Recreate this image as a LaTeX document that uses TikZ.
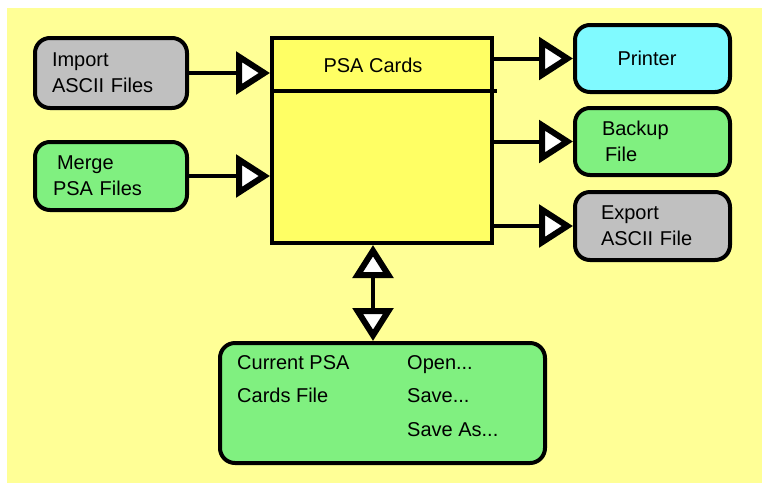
\documentclass[tikz,border=0pt]{standalone}
\usepackage{fontspec}
\setmainfont{Liberation Sans}
\usepackage{tikz}
\usetikzlibrary{arrows.meta,calc}
\definecolor{bgyellow}{RGB}{255,255,150}
\definecolor{cardyellow}{RGB}{255,255,100}
\definecolor{filegreen}{RGB}{128,240,128}
\definecolor{filegray}{RGB}{192,192,192}
\definecolor{printcyan}{RGB}{128,250,255}

\tikzset{
	box/.style={draw=black, line width=4pt, fill=#1, rounded corners=15pt,
		minimum width=155pt, minimum height=67pt, inner ysep=0pt},
	feed/.style={line width=4pt, -{Triangle[length=34pt 0, width=42pt 0, line width=6pt 0, fill=white]}},
	link/.style={line width=4pt, {Triangle[length=33pt 0, width=40pt 0, line width=6pt 0, fill=white]}-{Triangle[length=33pt 0, width=40pt 0, line width=6pt 0, fill=white]}}
}

\begin{document}
\begin{tikzpicture}[x=1pt, y=-1pt, every node/.style={font=\fontsize{20}{26}\selectfont}]
	\useasboundingbox[fill=white] (0,0) rectangle (762,483);
	\fill[bgyellow] (7,8) rectangle (762,483);

	\node (imp) at (111,73) [box=filegray, minimum width=152pt, minimum height=70pt,
		text width=118pt, inner xsep=17pt, align=left] {Import\\ASCII Files};
	\node (mrg) at (111,176) [box=filegreen, minimum width=152pt, minimum height=68pt,
		text width=116pt, inner xsep=18pt, align=left] {\hspace*{4pt}Merge\\PSA Files};

	\node (psa) at (382,140.5) [draw, line width=4pt, fill=cardyellow, minimum width=220pt, minimum height=205pt] {};
	\node (psatitle) at (373,65) {PSA Cards};
	\draw [line width=4pt] (psa.west |- 0,91) -- ($(psa.east |- 0,91)+(3,0)$);

	\node (prn) at (652.5,58.5) [box=printcyan] {Printer\hspace*{11pt}};
	\node (bak) at (652.5,141.5) [box=filegreen, text width=101pt, inner xsep=27pt, align=left] {Backup\\\hspace*{3pt}File};
	\node (exp) at (652.5,226) [box=filegray, minimum height=68pt, text width=103pt, inner xsep=26pt, align=left] {Export\\ASCII File};

	\node (cur) at (382.5,403) [box=filegreen, minimum width=325pt, minimum height=120pt] {};
	\node (curname) at (237,379) [anchor=west, inner sep=0pt, align=left, font=\fontsize{20}{33.5}\selectfont] {Current PSA\\Cards File};
	\node (curmenu) at (407,396) [anchor=west, inner sep=0pt, align=left, font=\fontsize{20}{33.5}\selectfont] {Open...\\Save...\\Save As...};

\foreach \src in {imp,mrg}
	\draw [feed] (\src.east) -- (\src.east -| psa.west);

\foreach \dst in {prn,bak,exp}
	\draw [feed] (psa.east |- \dst.west) -- (\dst.west);

	\draw [link] (psa.south -| psatitle) -- (cur.north -| psatitle);

\end{tikzpicture}
\end{document}
